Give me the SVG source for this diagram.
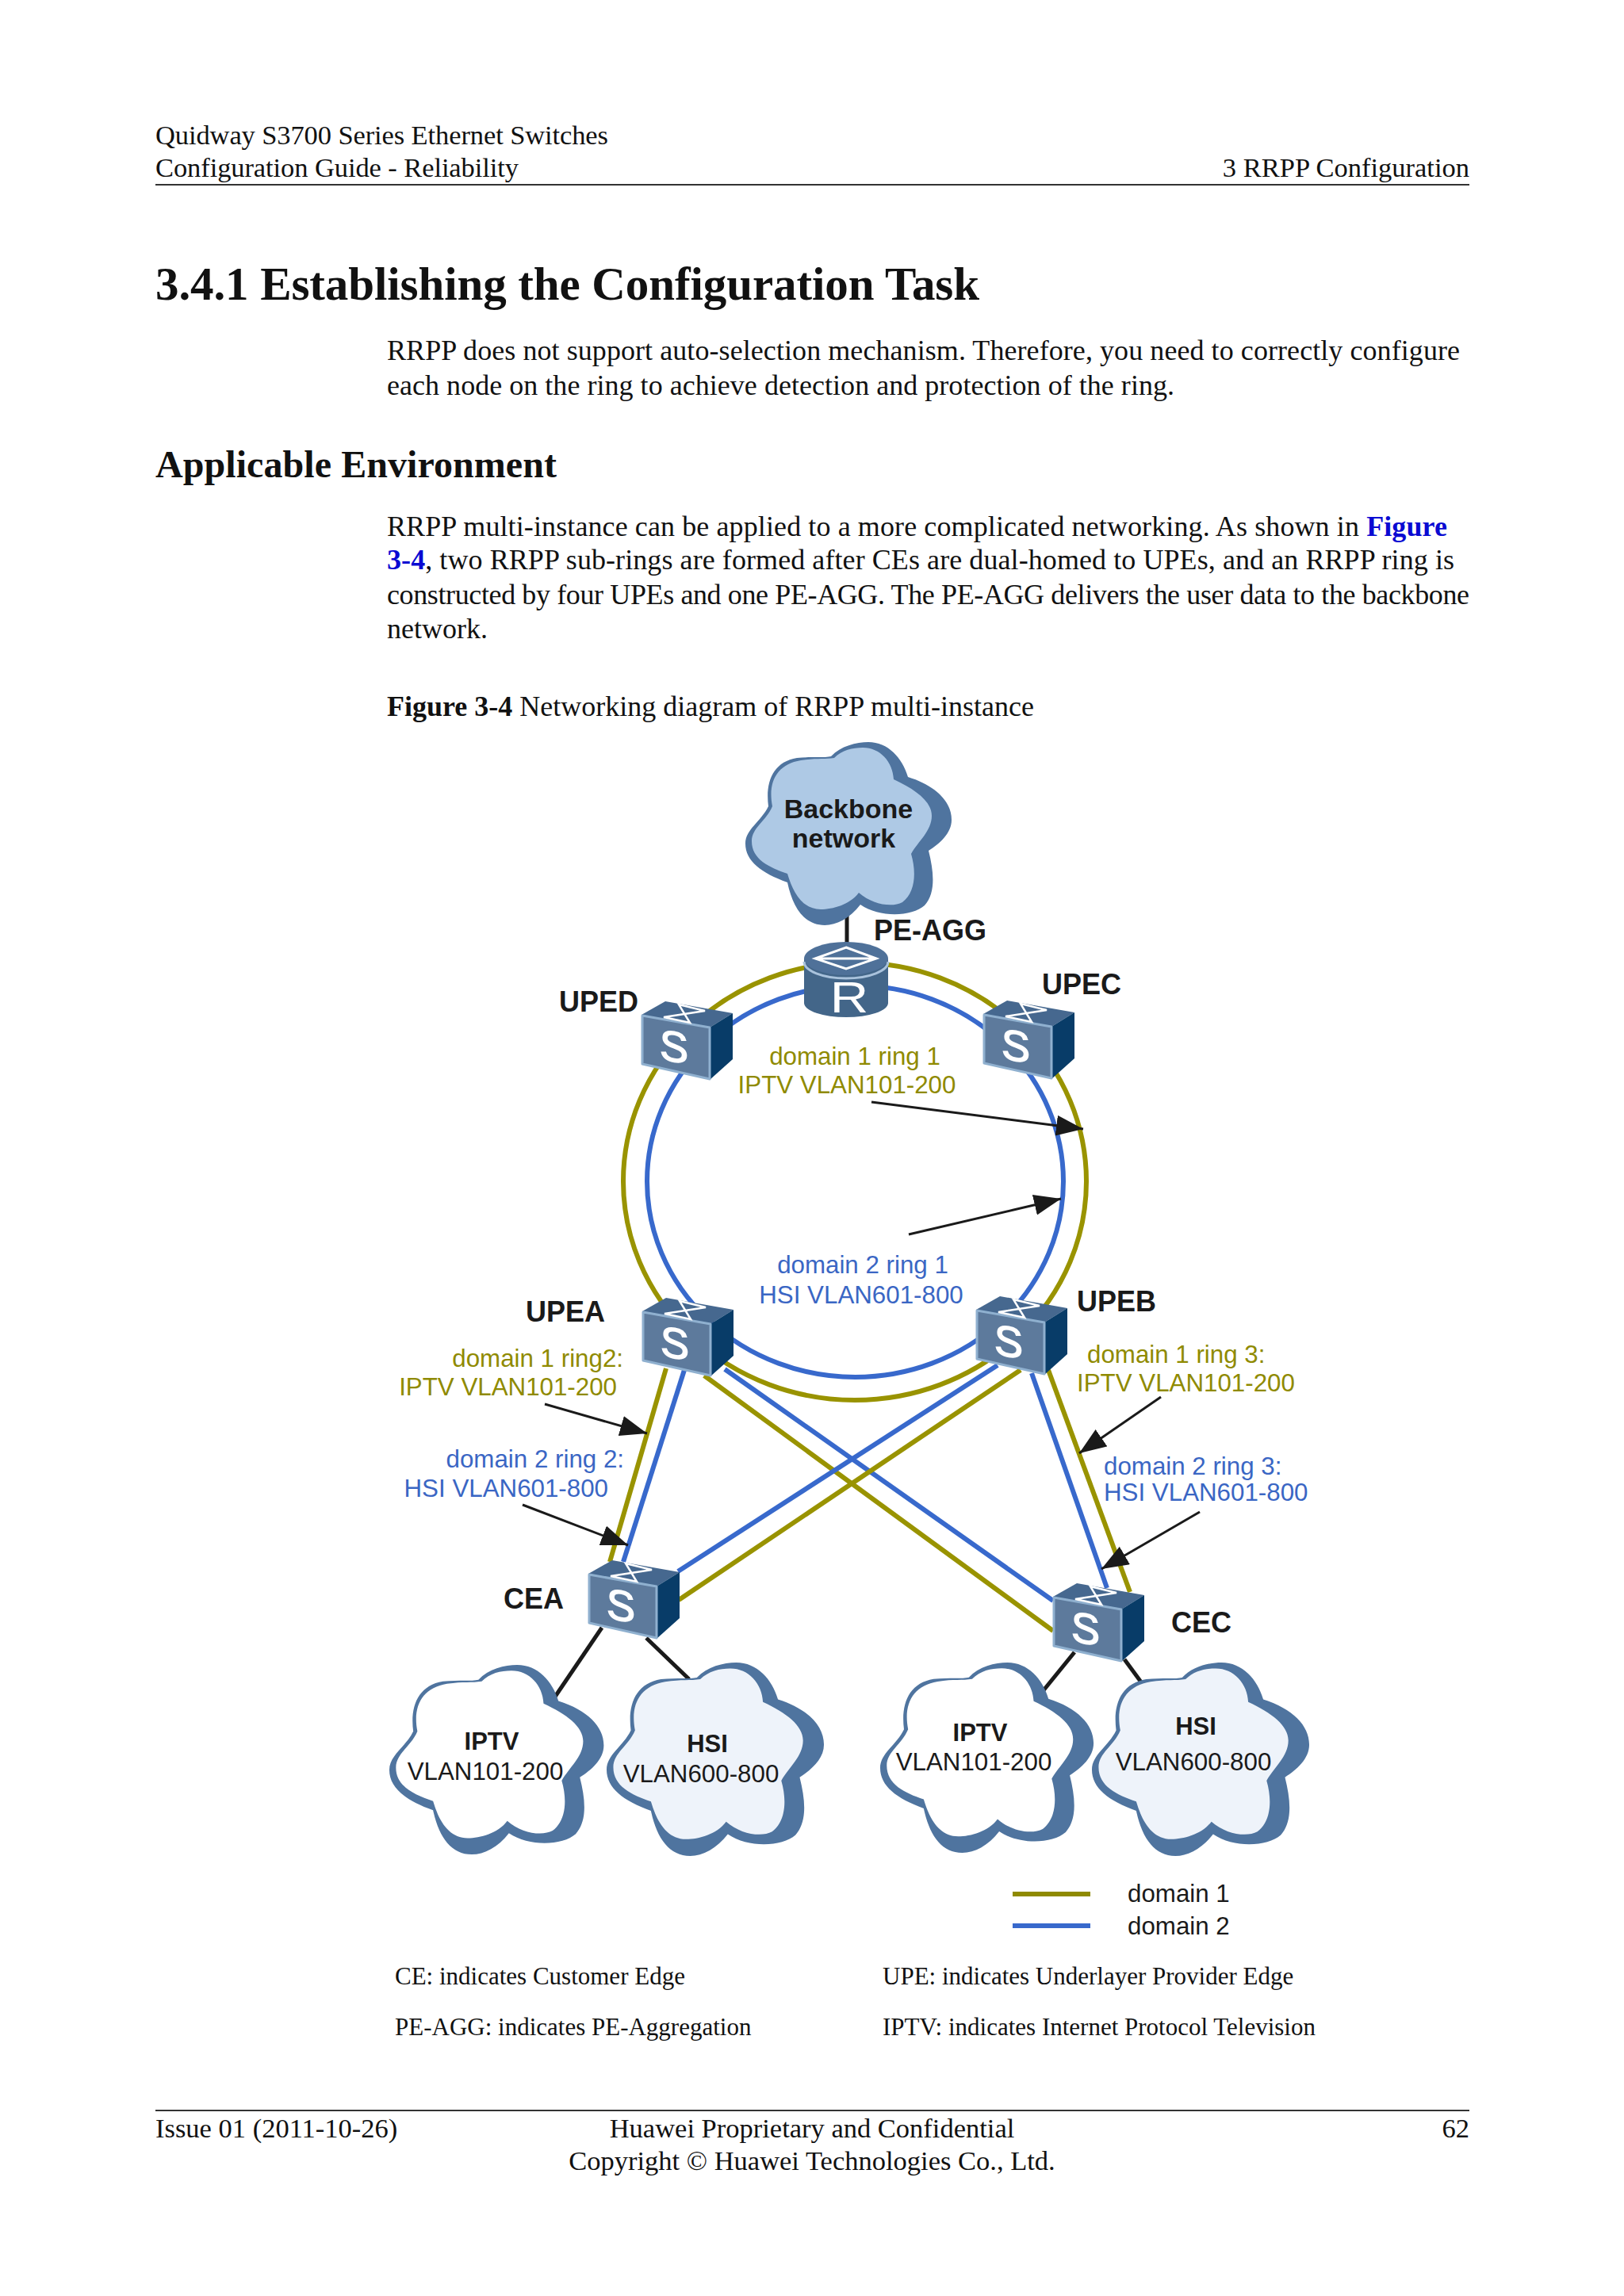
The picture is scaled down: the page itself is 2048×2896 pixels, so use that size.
<svg xmlns="http://www.w3.org/2000/svg" width="2048" height="2896" viewBox="0 0 2048 2896">
<style>
.p{font-family:"Liberation Serif","Times New Roman",serif;font-size:36px;fill:#111}
.t{font-family:"Liberation Serif","Times New Roman",serif;font-size:34.5px;fill:#111}
.h{font-family:"Liberation Serif","Times New Roman",serif;font-weight:bold;fill:#111}
.n{font-family:"Liberation Serif","Times New Roman",serif;font-size:31px;fill:#111}
.b{font-weight:bold}
.lk{fill:#0a0ad2;font-weight:bold}
.nm{font-family:"Liberation Sans",Arial,sans-serif;font-weight:bold;font-size:36px;fill:#1a1a1a}
.cb{font-family:"Liberation Sans",Arial,sans-serif;font-weight:bold;font-size:31px;fill:#1a1a1a}
.cr{font-family:"Liberation Sans",Arial,sans-serif;font-size:31.3px;fill:#1a1a1a}
.o{font-family:"Liberation Sans",Arial,sans-serif;font-size:31.3px;fill:#8f8a00}
.u{font-family:"Liberation Sans",Arial,sans-serif;font-size:31.3px;fill:#3a66c4}
.ol{stroke:#999300;stroke-width:6;fill:none}
.bl{stroke:#3869cc;stroke-width:6;fill:none}
.k{stroke:#1a1a1a;stroke-width:5;fill:none}
.ar{stroke:#1a1a1a;stroke-width:3;fill:none;marker-end:url(#ah)}
.sl{font-family:"Liberation Sans",Arial,sans-serif;font-size:54px;fill:#fff;stroke:#fff;stroke-width:1.5;text-anchor:middle}
</style>
<defs>
<marker id="ah" markerUnits="userSpaceOnUse" markerWidth="36" markerHeight="28" refX="34" refY="13" orient="auto"><path d="M0,0L34,13L0,26z" fill="#1a1a1a"/></marker>
<path id="co" d="M29,81C25,50 35,25 65,20C85,18 100,20 108,18C120,5 140,0 155,0C180,0 198,20 205,44C240,55 260,75 260,98C260,115 245,128 231,137C238,165 240,190 226,206C210,220 170,222 145,205C132,222 115,231 100,231C75,231 60,210 53,177C20,165 0,150 0,128C0,110 20,100 29,81Z"/>
<path id="ci" d="M34,81C28,50 40,28 70,23C90,20 100,22 112,20C122,10 135,7 148,7C170,7 186,25 187,47C215,60 235,75 235,93C235,112 218,125 209,141C216,165 214,190 198,202C185,209 160,205 143,190C132,205 110,211 95,211C72,211 60,190 53,166C30,158 8,148 8,125C8,108 26,100 34,81Z"/>
<g id="sw">
<path d="M0,17L30,0L115,15L86,33Z" fill="#46688f"/>
<path d="M86,33L115,15L115,73L86,99Z" fill="#083c68"/>
<path d="M1,18L86,33L86,98L1,79Z" fill="#5d7a9c" stroke="#8fb0cf" stroke-width="3" stroke-linejoin="round"/>
<path d="M47,4L80,12L28,20L61,27Z" fill="none" stroke="#fff" stroke-width="2.5"/>
</g>
</defs>
<rect width="2048" height="2896" fill="#fff"/>

<g id="page">
<text class="t" x="196" y="182" textLength="571">Quidway S3700 Series Ethernet Switches</text>
<text class="t" x="196" y="223" textLength="458">Configuration Guide - Reliability</text>
<text class="t" x="1853" y="223" text-anchor="end">3 RRPP Configuration</text>
<path d="M196,233H1853" stroke="#333" stroke-width="2"/>
<text class="h" x="196" y="378" font-size="59" textLength="1039">3.4.1 Establishing the Configuration Task</text>
<text class="p" x="488" y="454" textLength="1353">RRPP does not support auto-selection mechanism. Therefore, you need to correctly configure</text>
<text class="p" x="488" y="498" textLength="993">each node on the ring to achieve detection and protection of the ring.</text>
<text class="h" x="196" y="602" font-size="48" textLength="506">Applicable Environment</text>
<text class="p" x="488" y="676" textLength="1337">RRPP multi-instance can be applied to a more complicated networking. As shown in <tspan class="lk">Figure</tspan></text>
<text class="p" x="488" y="718" textLength="1346"><tspan class="lk">3-4</tspan>, two RRPP sub-rings are formed after CEs are dual-homed to UPEs, and an RRPP ring is</text>
<text class="p" x="488" y="762" textLength="1365">constructed by four UPEs and one PE-AGG. The PE-AGG delivers the user data to the backbone</text>
<text class="p" x="488" y="805">network.</text>
<text class="p" x="488" y="903"><tspan class="b">Figure 3-4</tspan> Networking diagram of RRPP multi-instance</text>
<text class="n" x="498" y="2503">CE: indicates Customer Edge</text>
<text class="n" x="1113" y="2503">UPE: indicates Underlayer Provider Edge</text>
<text class="n" x="498" y="2567">PE-AGG: indicates PE-Aggregation</text>
<text class="n" x="1113" y="2567">IPTV: indicates Internet Protocol Television</text>
<path d="M196,2662H1853" stroke="#333" stroke-width="2"/>
<text class="t" x="196" y="2696">Issue 01 (2011-10-26)</text>
<text class="t" x="1024" y="2696" text-anchor="middle">Huawei Proprietary and Confidential</text>
<text class="t" x="1024" y="2737" text-anchor="middle">Copyright © Huawei Technologies Co., Ltd.</text>
<text class="t" x="1853" y="2696" text-anchor="end">62</text>
</g>

<g id="connectors">
<ellipse class="ol" cx="1078" cy="1490" rx="292" ry="276"/>
<ellipse class="bl" cx="1078.5" cy="1490" rx="262.5" ry="247"/>
<path class="ol" d="M840,1726L769,1970"/>
<path class="bl" d="M863,1728L786,1970"/>
<path class="ol" d="M888,1735L1328,2057"/>
<path class="bl" d="M914,1727L1328,2019"/>
<path class="ol" d="M1287,1728L856,2018"/>
<path class="bl" d="M1258,1722L855,1982"/>
<path class="bl" d="M1301,1732L1396,2003"/>
<path class="ol" d="M1322,1728L1425,2008"/>
<path class="k" d="M1068,1140V1192"/>
<path class="k" d="M759,2053L700,2140"/>
<path class="k" d="M815,2066L869,2118"/>
<path class="k" d="M1355,2084L1316,2132"/>
<path class="k" d="M1418,2093L1440,2123"/>
<path class="ar" d="M1099,1390L1366,1424"/>
<path class="ar" d="M1146,1557L1338,1512"/>
<path class="ar" d="M687,1771L816,1808"/>
<path class="ar" d="M659,1898L792,1949"/>
<path class="ar" d="M1464,1762L1361,1833"/>
<path class="ar" d="M1513,1907L1389,1979"/>
</g>

<g id="backbone">
<use href="#co" transform="translate(940,936)" fill="#4f749f"/>
<use href="#ci" transform="translate(940,936)" fill="#aec9e5"/>
<text class="nm" x="1070" y="1032" text-anchor="middle" style="font-size:34px">Backbone</text>
<text class="nm" x="1064" y="1069" text-anchor="middle" style="font-size:34px">network</text>
</g>

<g id="pe-agg">
<path d="M1014,1209V1265A53,18 0 0 0 1120,1265V1209Z" fill="#436689"/>
<ellipse cx="1067" cy="1209" rx="53" ry="21" fill="#4f7199"/>
<path d="M1014,1213A53,21 0 0 0 1120,1213" fill="none" stroke="#a9c2dc" stroke-width="3"/>
<path d="M1067,1195L1105,1209L1067,1222L1028,1209ZM1028,1209H1105" fill="none" stroke="#fff" stroke-width="3"/>
<text transform="translate(1071,1277) scale(1.2,1)" style="font-family:'Liberation Sans',Arial,sans-serif;font-size:56px;fill:#fff;text-anchor:middle">R</text>
<text class="nm" x="1102" y="1186">PE-AGG</text>
</g>

<g id="uped"><use href="#sw" transform="translate(809,1263)"/><text class="sl" transform="translate(850,1339) skewY(10)">S</text><text class="nm" x="705" y="1276">UPED</text></g>
<g id="upec"><use href="#sw" transform="translate(1240,1262)"/><text class="sl" transform="translate(1281,1338) skewY(10)">S</text><text class="nm" x="1314" y="1254">UPEC</text></g>
<g id="upea"><use href="#sw" transform="translate(810,1637)"/><text class="sl" transform="translate(851,1713) skewY(10)">S</text><text class="nm" x="663" y="1667">UPEA</text></g>
<g id="upeb"><use href="#sw" transform="translate(1231,1635)"/><text class="sl" transform="translate(1272,1711) skewY(10)">S</text><text class="nm" x="1358" y="1654">UPEB</text></g>
<g id="cea"><use href="#sw" transform="translate(742,1968)"/><text class="sl" transform="translate(783,2044) skewY(10)">S</text><text class="nm" x="635" y="2029">CEA</text></g>
<g id="cec"><use href="#sw" transform="translate(1328,1997)"/><text class="sl" transform="translate(1369,2073) skewY(10)">S</text><text class="nm" x="1477" y="2059">CEC</text></g>

<g id="iptv-left">
<use href="#co" transform="translate(491,2100) scale(1.04,1.035)" fill="#4f749f"/>
<use href="#ci" transform="translate(491,2100) scale(1.04,1.035)" fill="#fff"/>
<text class="cb" x="620" y="2207" text-anchor="middle">IPTV</text>
<text class="cr" x="612" y="2245" text-anchor="middle">VLAN101-200</text>
</g>
<g id="hsi-left">
<use href="#co" transform="translate(765,2097) scale(1.054,1.056)" fill="#4f749f"/>
<use href="#ci" transform="translate(765,2097) scale(1.054,1.056)" fill="#eef3fa"/>
<text class="cb" x="892" y="2210" text-anchor="middle">HSI</text>
<text class="cr" x="884" y="2248" text-anchor="middle">VLAN600-800</text>
</g>
<g id="iptv-right">
<use href="#co" transform="translate(1110,2097) scale(1.035,1.039)" fill="#4f749f"/>
<use href="#ci" transform="translate(1110,2097) scale(1.035,1.039)" fill="#fff"/>
<text class="cb" x="1236" y="2196" text-anchor="middle">IPTV</text>
<text class="cr" x="1228" y="2233" text-anchor="middle">VLAN101-200</text>
</g>
<g id="hsi-right">
<use href="#co" transform="translate(1377,2097) scale(1.054,1.056)" fill="#4f749f"/>
<use href="#ci" transform="translate(1377,2097) scale(1.054,1.056)" fill="#eef3fa"/>
<text class="cb" x="1508" y="2188" text-anchor="middle">HSI</text>
<text class="cr" x="1505" y="2233" text-anchor="middle">VLAN600-800</text>
</g>

<g id="labels">
<text class="o" x="1078" y="1343" text-anchor="middle">domain 1 ring 1</text>
<text class="o" x="1068" y="1379" text-anchor="middle">IPTV VLAN101-200</text>
<text class="u" x="1088" y="1606" text-anchor="middle">domain 2 ring 1</text>
<text class="u" x="1086" y="1644" text-anchor="middle">HSI VLAN601-800</text>
<text class="o" x="786" y="1724" text-anchor="end">domain 1 ring2:</text>
<text class="o" x="778" y="1760" text-anchor="end">IPTV VLAN101-200</text>
<text class="u" x="787" y="1851" text-anchor="end">domain 2 ring 2:</text>
<text class="u" x="767" y="1888" text-anchor="end">HSI VLAN601-800</text>
<text class="o" x="1371" y="1719">domain 1 ring 3:</text>
<text class="o" x="1358" y="1755">IPTV VLAN101-200</text>
<text class="u" x="1392" y="1860">domain 2 ring 3:</text>
<text class="u" x="1392" y="1893">HSI VLAN601-800</text>
</g>

<g id="legend">
<path d="M1277,2389H1375" stroke="#8f8a00" stroke-width="6"/>
<path d="M1277,2429H1375" stroke="#3869cc" stroke-width="6"/>
<text class="cr" x="1422" y="2399">domain 1</text>
<text class="cr" x="1422" y="2440">domain 2</text>
</g>
</svg>
